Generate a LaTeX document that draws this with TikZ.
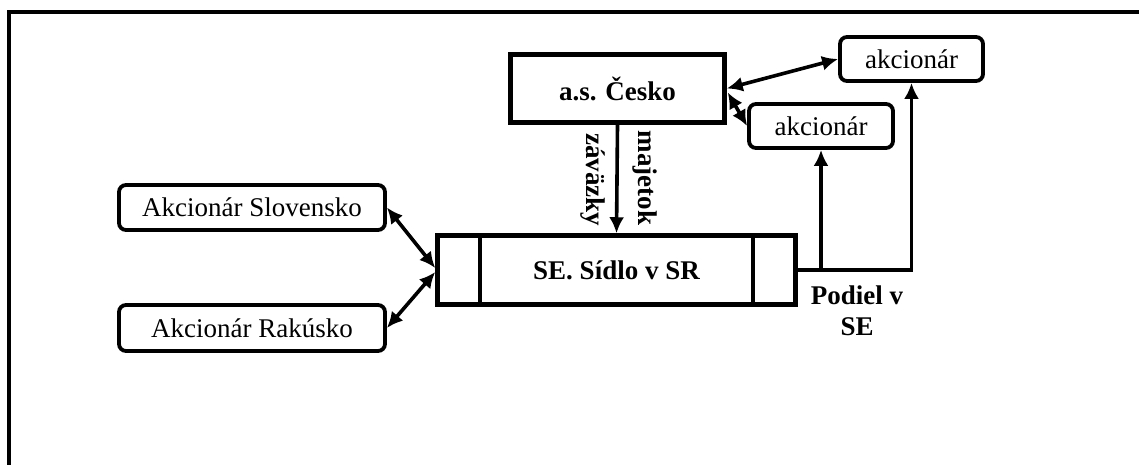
\documentclass[tikz,border=0pt]{standalone}
\usepackage{fontspec}
\setmainfont{Liberation Serif}
\usetikzlibrary{arrows.meta,calc}
\tikzset{
  lbl/.style={font=\fontsize{27}{31}\selectfont},
  blbl/.style={font=\fontsize{27}{31}\selectfont\bfseries},
  sqbox/.style={draw, line width=4.5pt, inner sep=0pt, blbl},
  rbox/.style={draw, line width=3.8pt, rounded corners=7pt, inner sep=0pt, lbl},
  tip/.tip={Latex[length=16pt,width=15pt]},
  arr/.style={line width=3.6pt, -tip},
  darr/.style={line width=3.6pt, tip-tip},
}
\begin{document}
\begin{tikzpicture}[x=1pt,y=-1pt]
  \useasboundingbox (0,0) rectangle (1139,465);
  % page frame (top and left edges)
  \draw[line width=4.5pt] (9,467) -- (9,12) -- (1141,12);

  % boxes
  \node[sqbox, minimum width=214pt, minimum height=68pt] (cesko) at (617.5,88.5) {a.s. Česko};
  \node[rbox, minimum width=143pt, minimum height=44pt] (ak1) at (911.5,59) {akcionár};
  \node[rbox, minimum width=144pt, minimum height=44pt] (ak2) at (821,126) {akcionár};
  \node[rbox, minimum width=266pt, minimum height=45pt] (slov) at (252,207.5) {Akcionár Slovensko};
  \node[rbox, minimum width=266pt, minimum height=46pt] (rak) at (252,328) {Akcionár Rakúsko};
  \node[sqbox, minimum width=358pt, minimum height=69pt] (se) at (616.5,270) {SE. Sídlo v SR};
  % side panels of the SE box
  \draw[line width=3.6pt] (480,235) -- (480,305);
  \draw[line width=3.6pt] (753,235) -- (753,305);

  % flows between Česko and SE
  \draw[arr] (cesko.south) -- (se.north);
  \node[blbl, rotate=-90] (zav) at (593,180) {záväzky};
  \node[blbl, rotate=-90] (maj) at (645,178) {majetok};

  % shareholders of Česko
  \draw[darr] (cesko.east) -- (ak1.west);
  \draw[darr] ($(cesko.east)+(1,4)$) -- (ak2.west);

  % shareholders of SE
  \draw[darr] (slov.east) -- ($(se.west)+(0,-2)$);
  \draw[darr] (rak.east) -- ($(se.west)+(0,2)$);

  % share in SE
  \draw[arr] (se.east) -| (ak1.south);
  \coordinate (j1) at (ak2.south |- se.east);
  \draw[arr] (j1) -- (ak2.south);
  \node[blbl, align=center] (podiel) at (857,311) {Podiel v\\SE};
\end{tikzpicture}
\end{document}
